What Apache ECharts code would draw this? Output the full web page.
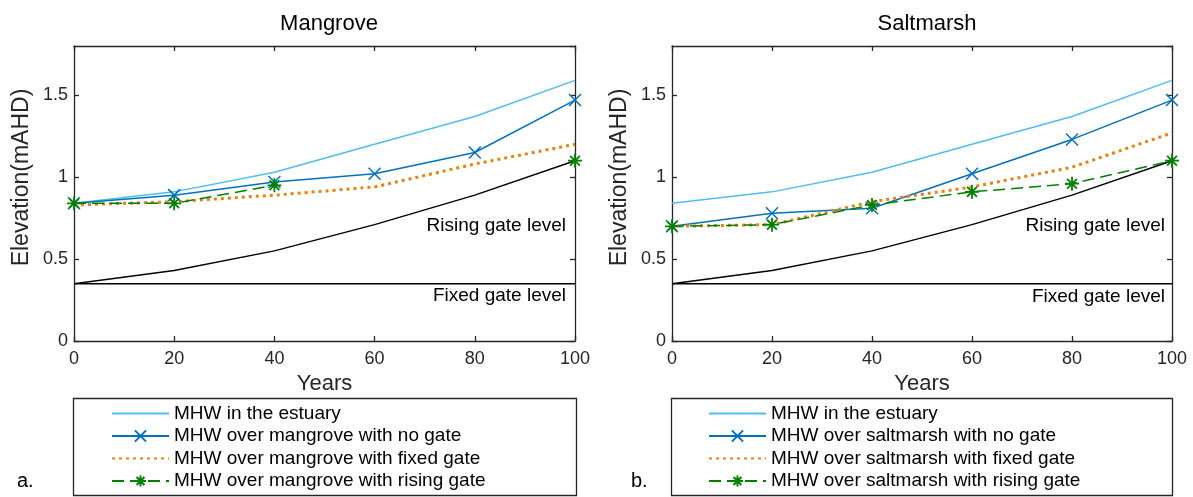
<!DOCTYPE html>
<html>
<head>
<meta charset="utf-8">
<script src="https://cdn.jsdelivr.net/npm/echarts@6/dist/echarts.min.js"></script>
<style>
  html, body { margin: 0; padding: 0; background: #fff; }
  #chart { width: 1193px; height: 497px; }
</style>
</head>
<body>
<div id="chart"></div>
<script>
// years on the x axis (also the tick labels)
const years = [0, 20, 40, 60, 80, 100]

// shared lines
const estuary = [0.84, 0.91, 1.03, 1.20, 1.37, 1.59]
const risingGateLevel = [0.35, 0.43, 0.55, 0.71, 0.89, 1.10]
const fixedGateLevel = [0.35, 0.35, 0.35, 0.35, 0.35, 0.35]

// mangrove (a.)
const mangroveNoGate = [0.84, 0.89, 0.97, 1.02, 1.15, 1.47]
const mangroveFixedGate = [0.83, 0.85, 0.89, 0.94, 1.08, 1.20]
const mangroveRisingGate = [0.84, 0.84, 0.95, null, null, 1.10]

// saltmarsh (b.)
const saltmarshNoGate = [0.70, 0.78, 0.81, 1.02, 1.23, 1.47]
const saltmarshFixedGate = [0.70, 0.71, 0.85, 0.94, 1.06, 1.27]
const saltmarshRisingGate = [0.70, 0.71, 0.83, 0.91, 0.96, 1.10]

const FONT = '"Liberation Sans", Arial, Helvetica, sans-serif'
const AXIS = '#262626'
const C_EST = '#4DBEEE'
const C_NOGATE = '#0072BD'
const C_FIXED = '#E8820C'
const C_RISING = '#008000'

const CROSS = 'path://M0 0L10 10M10 0L0 10'
const STAR = 'path://M5 0L5 10M0 5L10 5M1.5 1.5L8.5 8.5M8.5 1.5L1.5 8.5'

const grids = [
  { left: 74, top: 46, width: 501, height: 295 },
  { left: 672, top: 46, width: 500, height: 295 },
]

function pairs(values) {
  return years.map((y, i) => [y, values[i]])
}

function xAxes(g) {
  const base = {
    gridIndex: g, type: 'value', min: 0, max: 100, interval: 20,
    axisLine: { show: true, onZero: false, lineStyle: { color: AXIS, width: 1.3 } },
    axisTick: { show: true, inside: true, length: 5, lineStyle: { color: AXIS, width: 1.3 } },
    splitLine: { show: false },
  }
  return [
    {
      ...base, position: 'bottom',
      axisLabel: { fontFamily: FONT, fontSize: 18, color: AXIS, margin: 9 },
      name: 'Years', nameLocation: 'middle', nameGap: 29,
      nameTextStyle: { fontFamily: FONT, fontSize: 22, color: AXIS },
    },
    { ...base, position: 'top', axisLabel: { show: false } },
  ]
}

function yAxes(g) {
  const base = {
    gridIndex: g, type: 'value', min: 0, max: 1.8, interval: 0.5,
    axisLine: { show: true, onZero: false, lineStyle: { color: AXIS, width: 1.3 } },
    axisTick: { show: true, inside: true, length: 5, lineStyle: { color: AXIS, width: 1.3 } },
    splitLine: { show: false },
  }
  return [
    {
      ...base, position: 'left',
      axisLabel: { fontFamily: FONT, fontSize: 18, color: AXIS, margin: 6, showMaxLabel: false },
      name: 'Elevation(mAHD)', nameLocation: 'middle', nameGap: 41, nameRotate: 90,
      nameTextStyle: { fontFamily: FONT, fontSize: 23, color: AXIS, padding: [0, 0, 0, 32] },
    },
    { ...base, position: 'right', axisLabel: { show: false } },
  ]
}

function line(g, name, values, color, extra) {
  return {
    type: 'line', name, xAxisIndex: g * 2, yAxisIndex: g * 2,
    data: pairs(values), silent: true, animation: false,
    symbol: 'none', showSymbol: true, connectNulls: false,
    lineStyle: { color, width: 1.5 },
    itemStyle: { color },
    ...extra,
  }
}

function panelSeries(g, noGate, fixedGate, risingGate, noGateName, fixedName, risingName) {
  return [
    line(g, 'Fixed gate level', fixedGateLevel, '#000'),
    line(g, 'Rising gate level', risingGateLevel, '#000'),
    line(g, 'MHW in the estuary', estuary, C_EST),
    line(g, noGateName, noGate, C_NOGATE, {
      symbol: CROSS, symbolSize: 12,
      itemStyle: { color: C_NOGATE, borderColor: C_NOGATE, borderWidth: 1.5 },
    }),
    line(g, fixedName, fixedGate, C_FIXED, {
      lineStyle: { color: C_FIXED, width: 3, type: [3, 4] },
    }),
    line(g, risingName, risingGate, C_RISING, {
      symbol: STAR, symbolSize: 14,
      lineStyle: { color: C_RISING, width: 1.5, type: [12, 6] },
      itemStyle: { color: C_RISING, borderColor: C_RISING, borderWidth: 1.8 },
    }),
  ]
}

const mangroveNames = [
  'MHW over mangrove with no gate',
  'MHW over mangrove with fixed gate',
  'MHW over mangrove with rising gate',
]
const saltmarshNames = [
  'MHW over saltmarsh with no gate',
  'MHW over saltmarsh with fixed gate',
  'MHW over saltmarsh with rising gate',
]

function legendFor(left, names) {
  const hide = { itemStyle: { opacity: 0 } }
  return {
    orient: 'vertical', left, top: 404, padding: 0,
    itemWidth: 57, itemHeight: 14, itemGap: 3.5,
    selectedMode: false,
    textStyle: { fontFamily: FONT, fontSize: 19, color: '#000', lineHeight: 18 },
    data: [
      { name: 'MHW in the estuary', ...hide },
      { name: names[0] },
      { name: names[1], ...hide },
      { name: names[2] },
    ],
  }
}

function label(text, x, y, size, align) {
  return {
    type: 'text', x, y,
    style: { text, fontFamily: FONT, fontSize: size, fill: '#000', align: align || 'left', verticalAlign: 'middle' },
  }
}

const chart = echarts.init(document.getElementById('chart'), null, { renderer: 'canvas' })
chart.setOption({
  animation: false,
  backgroundColor: '#fff',
  title: [
    { text: 'Mangrove', left: 324, top: 8, textAlign: 'center',
      textStyle: { fontFamily: FONT, fontSize: 22, fontWeight: 'normal', color: '#000' } },
    { text: 'Saltmarsh', left: 922, top: 8, textAlign: 'center',
      textStyle: { fontFamily: FONT, fontSize: 22, fontWeight: 'normal', color: '#000' } },
  ],
  grid: grids.map((g) => ({ ...g, outerBoundsMode: 'none', containLabel: false })),
  xAxis: [...xAxes(0), ...xAxes(1)],
  yAxis: [...yAxes(0), ...yAxes(1)],
  legend: [legendFor(111, mangroveNames), legendFor(708, saltmarshNames)],
  series: [
    ...panelSeries(0, mangroveNoGate, mangroveFixedGate, mangroveRisingGate, ...mangroveNames),
    ...panelSeries(1, saltmarshNoGate, saltmarshFixedGate, saltmarshRisingGate, ...saltmarshNames),
  ],
  graphic: [
    { type: 'rect', shape: { x: 73.5, y: 398.5, width: 503, height: 97 },
      style: { fill: 'none', stroke: AXIS, lineWidth: 1.3 }, silent: true },
    { type: 'rect', shape: { x: 671.5, y: 398.5, width: 501, height: 97 },
      style: { fill: 'none', stroke: AXIS, lineWidth: 1.3 }, silent: true },
    label('Rising gate level', 566, 226, 19, 'right'),
    label('Fixed gate level', 566, 296, 19, 'right'),
    label('Rising gate level', 1165, 226, 19, 'right'),
    label('Fixed gate level', 1165, 297, 19, 'right'),
    label('a.', 17, 481, 20),
    label('b.', 631, 481, 20),
  ],
})
</script>
</body>
</html>
